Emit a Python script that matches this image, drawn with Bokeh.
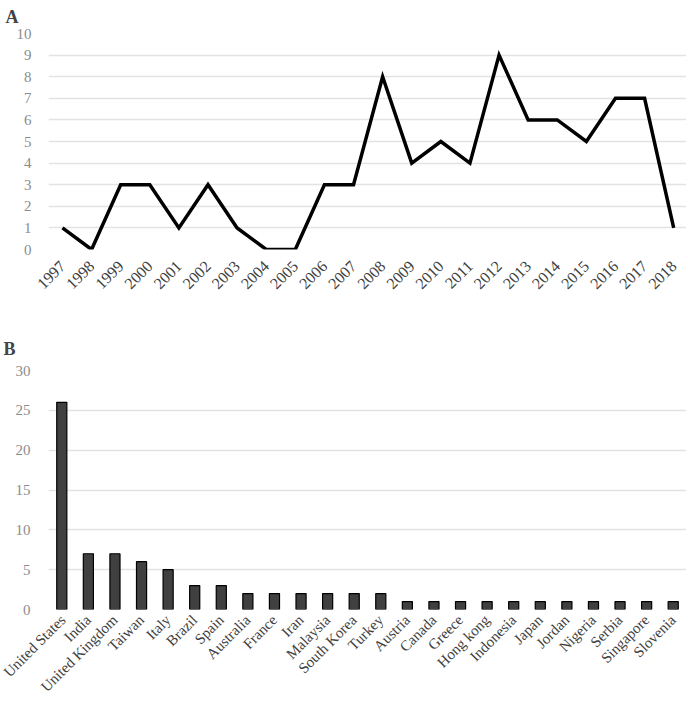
import math
from bokeh.plotting import figure
from bokeh.layouts import column
from bokeh.models import FixedTicker, Range1d
from bokeh.embed import file_html
from bokeh.resources import INLINE

years = [1997, 1998, 1999, 2000, 2001, 2002, 2003, 2004, 2005, 2006, 2007,
         2008, 2009, 2010, 2011, 2012, 2013, 2014, 2015, 2016, 2017, 2018]
counts = [1, 0, 3, 3, 1, 3, 1, 0, 0, 3, 3, 8, 4, 5, 4, 9, 6, 6, 5, 7, 7, 1]

countries = ["United States", "India", "United Kingdom", "Taiwan", "Italy", "Brazil",
             "Spain", "Australia", "France", "Iran", "Malaysia", "South Korea", "Turkey",
             "Austria", "Canada", "Greece", "Hong kong", "Indonesia", "Japan", "Jordan",
             "Nigeria", "Serbia", "Singapore", "Slovenia"]
country_counts = [26, 7, 7, 6, 5, 3, 3, 2, 2, 2, 2, 2, 2, 1, 1, 1, 1, 1, 1, 1, 1, 1, 1, 1]

FONT = "Liberation Serif"
GRID = "#e3e3e3"
YLAB = "#8c8c8c"
XLAB = "#404040"
W = 686

# ---- Panel A ----
pa = figure(width=W, height=318, output_backend="svg", toolbar_location=None,
            x_range=Range1d(years[0] - 0.48, years[-1] + 0.44), y_range=Range1d(0, 10),
            min_border_left=46, min_border_right=0, min_border_top=33, min_border_bottom=69)
pa.title.text = "A"
pa.title.text_font = FONT
pa.title.text_font_size = "18px"
pa.title.text_font_style = "bold"
pa.title.offset = -43
pa.title.standoff = 10
pa.title.vertical_align = "top"
pa.line(years, counts, line_color="black", line_width=3.5, line_join="miter")
pa.xaxis.ticker = FixedTicker(ticks=years)
pa.yaxis.ticker = FixedTicker(ticks=list(range(0, 11)))
pa.xaxis.major_label_orientation = math.pi / 4
for ax in (pa.xaxis[0], pa.yaxis[0]):
    ax.axis_line_color = None
    ax.major_tick_line_color = None
    ax.minor_tick_line_color = None
    ax.major_label_text_font = FONT
    ax.major_label_text_font_size = "15px"
pa.xaxis.major_label_text_font_size = "16px"
pa.yaxis.major_label_text_color = YLAB
pa.xaxis.major_label_text_color = XLAB
pa.xaxis.major_label_standoff = 8
pa.yaxis.major_label_standoff = 11
pa.xgrid.grid_line_color = None
pa.ygrid.grid_line_color = GRID
pa.ygrid.grid_line_width = 1.5
pa.outline_line_color = None

# ---- Panel B ----
pb = figure(width=W, height=385, output_backend="svg", toolbar_location=None,
            x_range=countries, y_range=Range1d(0, 30),
            min_border_left=48, min_border_right=0, min_border_top=52, min_border_bottom=91)
pb.title.text = "B"
pb.title.text_font = FONT
pb.title.text_font_size = "18px"
pb.title.text_font_style = "bold"
pb.title.offset = -45
pb.title.standoff = 23
pb.vbar(x=countries, top=country_counts, width=0.38, fill_color="#404040",
        line_color="black", line_width=1.2)
pb.yaxis.ticker = FixedTicker(ticks=[0, 5, 10, 15, 20, 25, 30])
pb.xaxis.major_label_orientation = math.pi / 4
for ax in (pb.xaxis[0], pb.yaxis[0]):
    ax.axis_line_color = None
    ax.major_tick_line_color = None
    ax.minor_tick_line_color = None
    ax.major_label_text_font = FONT
pb.yaxis.major_label_text_font_size = "15px"
pb.xaxis.major_label_text_font_size = "15px"
pb.yaxis.major_label_text_color = YLAB
pb.xaxis.major_label_text_color = XLAB
pb.xaxis.major_label_standoff = 2
pb.yaxis.major_label_standoff = 12
pb.x_range.range_padding = 0
pb.xgrid.grid_line_color = None
pb.ygrid.grid_line_color = GRID
pb.ygrid.grid_line_width = 1.5
pb.outline_line_color = None

layout = column(pa, pb, spacing=0)
open("out.html", "w").write(file_html(layout, INLINE))
